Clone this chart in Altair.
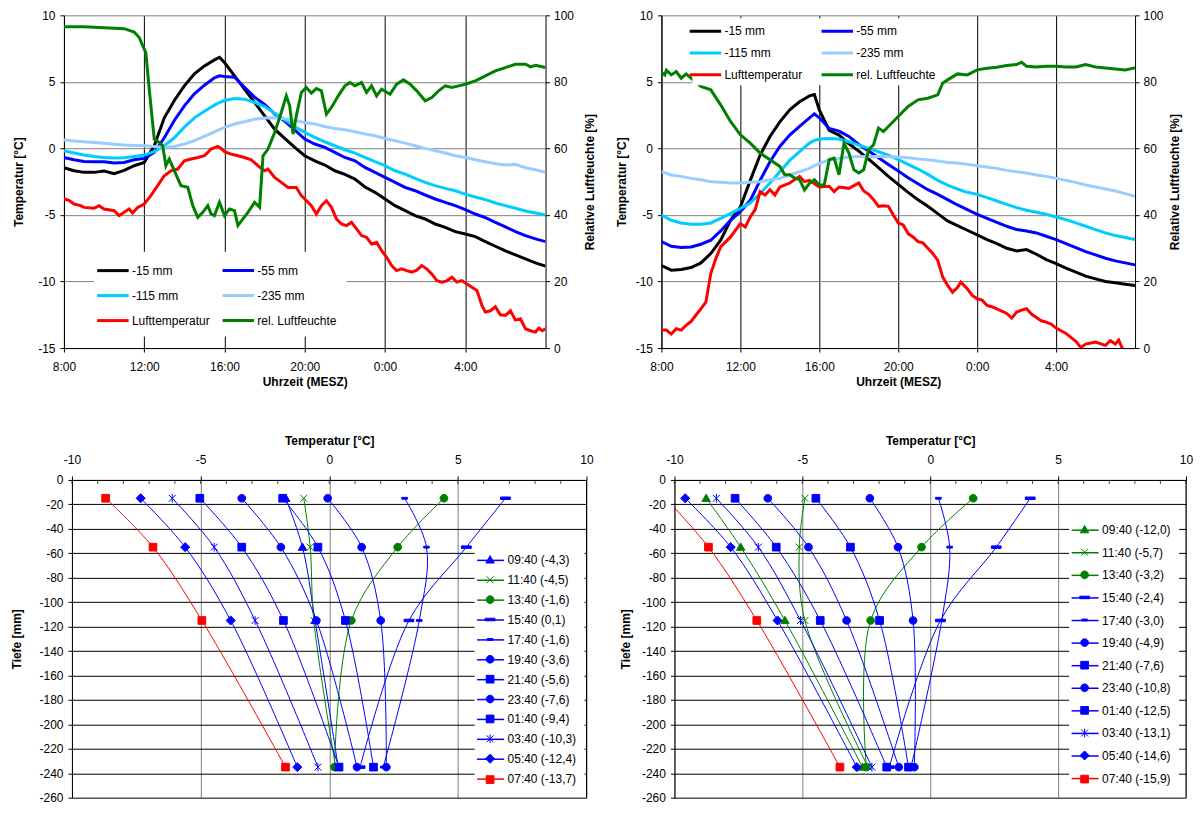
import altair as alt
import pandas as pd

FONT = "Liberation Sans"

# ---------------- time series (hours after 8:00) ----------------
T_GRID = [0, 0.5, 1, 1.5, 2, 2.5, 3, 3.5, 4, 4.5, 5, 5.5, 6, 6.5, 7, 7.5, 7.75,
          8, 8.5, 9, 9.5, 10, 10.5, 11, 11.5, 12, 12.5, 13, 13.5, 14, 14.5, 15, 15.5,
          16, 16.5, 17, 17.5, 18, 18.5, 19, 19.5, 20, 20.5, 21, 21.5, 22, 22.5, 23, 23.5, 24]

TOP_NAMES = ["-15 mm", "-55 mm", "-115 mm", "-235 mm", "Lufttemperatur", "rel. Luftfeuchte"]
TOP_COLORS = ["#000000", "#0000FF", "#00CCFF", "#99CCFF", "#FF0000", "#008000"]
# legend reading order (two columns, filled column by column)
LEGEND_ORDER = [0, 2, 4, 1, 3, 5]

# left top panel
TL_S15 = [-1.45, -1.68, -1.8, -1.8, -1.7, -1.9, -1.65, -1.3, -1.05, 0.2,
          2.3, 3.6, 4.7, 5.6, 6.2, 6.65, 6.85, 6.45, 5.45, 4.45,
          3.45, 2.45, 1.45, 0.75, 0.08, -0.55, -0.93, -1.25, -1.68, -1.95,
          -2.3, -2.9, -3.3, -3.8, -4.3, -4.68, -5.05, -5.3, -5.68, -5.93,
          -6.25, -6.43, -6.63, -7.0, -7.35, -7.7, -8.0, -8.3, -8.6, -8.85]
TL_S55 = [-0.68, -0.85, -0.98, -1.0, -1.0, -1.1, -1.05, -0.85, -0.75, -0.3,
          0.8, 2.1, 3.2, 4.1, 4.75, 5.3, 5.45, 5.4, 5.35, 4.6,
          3.85, 3.3, 2.6, 2.05, 1.4, 0.7, 0.33, 0.08, -0.3, -0.68,
          -0.93, -1.43, -1.8, -2.18, -2.55, -2.93, -3.18, -3.5, -3.8, -4.05,
          -4.3, -4.6, -4.93, -5.2, -5.55, -5.9, -6.25, -6.55, -6.8, -7.0]
TL_S115 = [-0.18, -0.35, -0.5, -0.6, -0.68, -0.72, -0.7, -0.6, -0.5, -0.25,
           0.2, 0.8, 1.6, 2.3, 2.8, 3.25, 3.45, 3.6, 3.75, 3.7,
           3.45, 3.15, 2.65, 2.15, 1.65, 1.2, 0.83, 0.5, 0.2, -0.1,
           -0.35, -0.68, -1.0, -1.3, -1.68, -1.93, -2.25, -2.55, -2.8, -3.0,
           -3.18, -3.43, -3.65, -3.85, -4.1, -4.3, -4.5, -4.7, -4.85, -5.0]
TL_S235 = [0.63, 0.56, 0.5, 0.44, 0.38, 0.31, 0.25, 0.22, 0.2, 0.14,
           0.08, 0.15, 0.33, 0.58, 0.9, 1.25, 1.42, 1.58, 1.83, 2.0,
           2.2, 2.28, 2.3, 2.22, 2.1, 1.95, 1.83, 1.65, 1.5, 1.4,
           1.25, 1.08, 0.95, 0.75, 0.58, 0.4, 0.2, 0.0, -0.18, -0.35,
           -0.55, -0.68, -0.85, -1.0, -1.15, -1.25, -1.2, -1.45, -1.6, -1.8]
TL_AIR = [(0, -3.8), (0.25, -3.9), (0.5, -4.18), (0.83, -4.3), (1, -4.43), (1.5, -4.5),
          (1.75, -4.3), (2, -4.55), (2.5, -4.68), (2.75, -5.05), (3, -4.8), (3.25, -4.55),
          (3.42, -4.85), (3.67, -4.43), (4, -4.18), (4.33, -3.55), (4.67, -2.8), (5, -2.05),
          (5.33, -1.68), (5.67, -1.55), (6, -0.93), (6.33, -0.8), (6.67, -0.68), (7, -0.55),
          (7.17, -0.3), (7.33, -0.05), (7.67, 0.15), (7.83, 0.0), (8, -0.25), (8.33, -0.43),
          (8.67, -0.55), (9, -0.68), (9.33, -0.85), (9.67, -1.3), (10, -1.68), (10.17, -1.55),
          (10.5, -2.18), (10.83, -2.55), (11.17, -2.93), (11.58, -2.93), (11.83, -3.55),
          (12, -3.8), (12.33, -4.3), (12.58, -4.93), (12.83, -4.3), (13.08, -3.93),
          (13.33, -4.43), (13.58, -5.3), (13.83, -5.68), (14.08, -5.8), (14.33, -5.55),
          (14.58, -6.05), (14.83, -6.55), (15.08, -6.68), (15.33, -7.18), (15.58, -7.05),
          (15.83, -7.68), (16.08, -8.18), (16.33, -8.8), (16.58, -9.18), (16.83, -9.05),
          (17.08, -9.18), (17.33, -9.3), (17.58, -9.15), (17.83, -8.8), (18.08, -9.05),
          (18.33, -9.43), (18.58, -9.93), (18.83, -10.05), (19.08, -9.95), (19.33, -9.68),
          (19.58, -10.05), (19.83, -9.93), (20.08, -10.18), (20.33, -10.43), (20.58, -10.68),
          (20.83, -11.8), (21.0, -12.3), (21.25, -12.2), (21.5, -11.9), (21.75, -12.5),
          (22.0, -12.55), (22.25, -12.2), (22.5, -12.9), (22.75, -12.8), (23.0, -13.55),
          (23.25, -13.7), (23.5, -13.8), (23.67, -13.5), (23.83, -13.7), (24, -13.55)]
TL_HUM = [(0, 96.6), (1, 96.6), (2, 96.3), (3, 96.0), (3.5, 95.0), (3.75, 93.3), (4.08, 88.8),
          (4.25, 77.8), (4.5, 62.8), (4.75, 61.8), (4.92, 60.8), (5.08, 54.8), (5.25, 56.8),
          (5.5, 53.3), (5.83, 48.8), (6.17, 48.3), (6.42, 42.8), (6.67, 39.3), (6.92, 40.8),
          (7.17, 42.8), (7.33, 40.3), (7.5, 39.8), (7.75, 43.8), (8.0, 39.8), (8.25, 41.8),
          (8.5, 41.3), (8.67, 36.8), (8.92, 38.8), (9.17, 40.8), (9.5, 43.8), (9.75, 42.3),
          (9.92, 57.8), (10.17, 59.8), (10.5, 64.8), (10.83, 70.8), (11.08, 75.8), (11.25, 72.8),
          (11.42, 64.3), (11.58, 69.8), (11.83, 76.8), (12.08, 78.3), (12.33, 76.6), (12.58, 78.0),
          (12.83, 77.3), (13.08, 70.3), (13.33, 72.3), (13.67, 75.8), (14.0, 78.8), (14.25, 79.8),
          (14.5, 78.8), (14.83, 79.8), (15.08, 76.8), (15.33, 78.8), (15.58, 75.8), (15.83, 77.8),
          (16.25, 76.3), (16.58, 79.3), (16.92, 80.6), (17.25, 79.3), (17.58, 77.3), (18.0, 74.3),
          (18.33, 75.3), (18.67, 77.3), (19.0, 78.8), (19.33, 78.3), (19.67, 78.8), (20.0, 79.3),
          (20.5, 80.3), (20.83, 81.3), (21.0, 81.8), (21.5, 83.3), (22.0, 84.3), (22.5, 85.3),
          (23.0, 85.3), (23.25, 84.5), (23.5, 85.0), (24.0, 84.3)]

# right top panel
TR_S15 = [-8.8, -9.15, -9.1, -8.95, -8.6, -7.9, -6.9, -5.4, -4.4, -2.4,
          -0.5, 0.9, 2.0, 2.9, 3.5, 3.95, 4.05, 2.9, 1.35, 1.0,
          0.35, -0.2, -0.8, -1.45, -2.1, -2.7, -3.3, -3.85, -4.35, -4.9,
          -5.45, -5.8, -6.15, -6.5, -6.85, -7.15, -7.5, -7.7, -7.6, -7.95,
          -8.35, -8.65, -9.0, -9.3, -9.6, -9.8, -10.0, -10.1, -10.2, -10.3]
TR_S55 = [-7.0, -7.35, -7.45, -7.4, -7.2, -6.9, -6.2, -5.4, -4.75, -3.9,
          -2.4, -1.0, 0.15, 1.0, 1.65, 2.3, 2.6, 2.3, 1.5, 1.3,
          0.9, 0.3, -0.2, -0.7, -1.2, -1.7, -2.2, -2.65, -3.1, -3.45,
          -3.85, -4.25, -4.6, -4.95, -5.25, -5.55, -5.85, -6.1, -6.2, -6.35,
          -6.6, -6.85, -7.15, -7.45, -7.75, -8.0, -8.25, -8.45, -8.6, -8.75]
TR_S115 = [-5.0, -5.4, -5.6, -5.7, -5.7, -5.6, -5.25, -4.9, -4.5, -4.1,
           -3.4, -2.6, -1.75, -0.9, -0.25, 0.4, 0.6, 0.7, 0.75, 0.7,
           0.5, 0.25, 0.0, -0.25, -0.5, -0.85, -1.2, -1.55, -1.95, -2.4,
           -2.75, -3.05, -3.3, -3.45, -3.7, -3.95, -4.2, -4.45, -4.65, -4.8,
           -4.95, -5.15, -5.35, -5.6, -5.85, -6.1, -6.35, -6.55, -6.7, -6.85]
TR_S235 = [-1.75, -2.0, -2.1, -2.25, -2.35, -2.5, -2.55, -2.6, -2.6, -2.55,
           -2.5, -2.35, -2.25, -2.0, -1.75, -1.5, -1.3, -1.15, -0.85, -0.75,
           -0.65, -0.6, -0.6, -0.6, -0.62, -0.65, -0.7, -0.8, -0.85, -0.95,
           -1.05, -1.1, -1.2, -1.3, -1.4, -1.5, -1.65, -1.75, -1.85, -2.0,
           -2.1, -2.25, -2.4, -2.55, -2.75, -2.9, -3.05, -3.2, -3.4, -3.6]
TR_AIR = [(0, -13.65), (0.25, -13.65), (0.5, -13.95), (0.75, -13.55), (1.0, -13.65), (1.25, -13.3),
          (1.5, -13.0), (2.0, -12.05), (2.25, -11.55), (2.5, -9.4), (2.75, -8.3), (3.0, -7.4),
          (3.5, -6.65), (4.0, -5.65), (4.25, -5.9), (4.5, -5.15), (4.75, -4.6), (5.0, -3.25),
          (5.25, -3.5), (5.5, -3.1), (5.75, -3.5), (6.0, -2.9), (6.5, -2.6), (7.0, -2.1),
          (7.25, -2.5), (7.5, -2.4), (8.0, -2.9), (8.5, -2.85), (8.75, -3.25), (9.0, -2.9),
          (9.5, -3.0), (10.0, -2.6), (10.25, -3.2), (10.5, -3.45), (10.75, -3.85), (11.0, -4.35),
          (11.25, -4.3), (11.5, -4.35), (11.75, -5.0), (12.0, -5.6), (12.25, -5.75), (12.5, -6.4),
          (12.75, -6.65), (13.0, -7.0), (13.25, -7.1), (13.5, -7.5), (13.75, -7.9), (14.0, -8.4),
          (14.25, -9.65), (14.5, -10.3), (14.75, -10.8), (15.0, -10.45), (15.17, -10.05),
          (15.5, -10.55), (15.75, -11.05), (16.0, -11.3), (16.25, -11.4), (16.5, -11.8),
          (16.75, -11.9), (17.0, -12.05), (17.5, -12.4), (17.75, -12.75), (18.0, -12.3),
          (18.25, -12.15), (18.5, -12.05), (18.75, -12.45), (19.0, -12.7), (19.25, -12.95),
          (19.5, -13.05), (19.75, -13.2), (20.0, -13.5), (20.25, -13.7), (20.5, -13.9),
          (20.75, -14.2), (21.0, -14.5), (21.25, -14.95), (21.5, -14.7), (22.0, -14.55),
          (22.5, -14.8), (22.75, -14.45), (23.0, -14.7), (23.17, -14.4), (23.33, -14.95),
          (23.5, -15.3)]
TR_HUM = [(0, 82.9), (0.17, 82.1), (0.25, 83.5), (0.5, 82.1), (0.75, 83.1), (1.0, 81.1),
          (1.25, 82.4), (1.5, 81.1), (2.0, 78.6), (2.5, 77.6), (3.0, 73.1), (3.5, 68.1),
          (4.0, 64.1), (4.5, 61.6), (5.0, 58.6), (5.5, 56.6), (6.0, 54.6), (6.25, 52.1),
          (6.5, 52.1), (6.75, 51.1), (7.0, 50.6), (7.25, 47.5), (7.5, 49.5), (7.75, 50.6),
          (8.0, 49.0), (8.25, 49.0), (8.5, 56.6), (8.75, 57.1), (9.0, 52.1), (9.25, 61.6),
          (9.5, 58.6), (9.75, 53.6), (10.0, 52.6), (10.25, 53.6), (10.5, 59.6), (10.75, 61.1),
          (11.0, 66.1), (11.25, 65.1), (11.5, 66.6), (12.0, 69.6), (12.5, 72.6), (13.0, 74.6),
          (13.5, 75.1), (14.0, 76.1), (14.25, 79.6), (14.5, 80.6), (15.0, 82.4), (15.5, 82.1),
          (16.0, 83.6), (16.5, 84.1), (17.0, 84.4), (17.5, 84.9), (18.0, 85.2), (18.25, 85.9),
          (18.5, 84.7), (19.0, 84.5), (19.5, 84.7), (20.0, 84.7), (20.5, 84.5), (21.0, 84.5),
          (21.5, 85.2), (22.0, 84.5), (22.5, 84.2), (23.0, 83.9), (23.5, 83.6), (24.0, 84.2)]

# ---------------- depth profiles ----------------
DEPTHS = [-15, -55, -115, -235]
BL_NAMES = ["09:40 (-4,3)", "11:40 (-4,5)", "13:40 (-1,6)", "15:40 (0,1)", "17:40 (-1,6)",
            "19:40 (-3,6)", "21:40 (-5,6)", "23:40 (-7,6)", "01:40 (-9,4)", "03:40 (-10,3)",
            "05:40 (-12,4)", "07:40 (-13,7)"]
BL_COLORS = ["#0000FF", "#008000", "#008000", "#0000FF", "#0000FF", "#0000FF", "#0000FF",
             "#0000FF", "#0000FF", "#0000FF", "#0000FF", "#FF0000"]
BL_PROFILES = [[-1.69, -1.04, -0.55, 0.35], [-0.99, -0.74, -0.6, 0.25], [4.46, 2.66, 0.86, 0.2],
               [6.85, 5.33, 3.1, 1.2], [2.93, 3.78, 3.5, 2.1], [-0.06, 1.26, 2.0, 2.22],
               [-1.81, -0.44, 0.63, 1.72], [-3.4, -1.88, -0.5, 1.08], [-5.03, -3.4, -1.78, 0.38],
               [-6.1, -4.47, -2.88, -0.44], [-7.33, -5.6, -3.83, -1.24], [-8.69, -6.85, -4.95, -1.7]]
BR_NAMES = ["09:40 (-12,0)", "11:40 (-5,7)", "13:40 (-3,2)", "15:40 (-2,4)", "17:40 (-3,0)",
            "19:40 (-4,9)", "21:40 (-7,6)", "23:40 (-10,8)", "01:40 (-12,5)", "03:40 (-13,1)",
            "05:40 (-14,6)", "07:40 (-15,9)"]
BR_COLORS = ["#008000", "#008000", "#008000", "#0000FF", "#0000FF", "#0000FF", "#0000FF",
             "#0000FF", "#0000FF", "#0000FF", "#0000FF", "#FF0000"]
BR_PROFILES = [[-8.76, -7.41, -5.68, -2.65], [-4.9, -5.12, -4.9, -2.43], [1.68, -0.34, -2.33, -2.5],
               [3.91, 2.58, 0.4, -1.6], [0.32, 0.76, 0.45, -0.75], [-2.36, -1.26, -0.67, -0.62],
               [-4.47, -3.12, -1.98, -0.85], [-6.35, -4.76, -3.27, -1.23], [-7.63, -6.02, -4.3, -1.7],
               [-8.36, -6.72, -5.07, -2.28], [-9.58, -7.8, -5.97, -2.87], [-10.35, -8.67, -6.78, -3.53]]
MINOR_TICKS = list(range(-10, 11))
X_RIGHT_EDGE = [10]

# marker shapes (unit = 7 px at size 196)
TRI = "M0,-0.6L0.6,0.45L-0.6,0.45Z"
XM = "M-0.5,-0.5L0.5,0.5M0.5,-0.5L-0.5,0.5"
CIR = "M0.55,0A0.55,0.55 0 1,1 -0.55,0A0.55,0.55 0 1,1 0.55,0Z"
DASHL = "M-0.7,-0.18L0.7,-0.18L0.7,0.18L-0.7,0.18Z"
DASHS = "M-0.4,-0.13L0.4,-0.13L0.4,0.13L-0.4,0.13Z"
SQ = "M-0.55,-0.55L0.55,-0.55L0.55,0.55L-0.55,0.55Z"
AST = "M-0.5,-0.5L0.5,0.5M0.5,-0.5L-0.5,0.5M0,-0.62L0,0.62"
DIA = "M0,-0.65L0.65,0L0,0.65L-0.65,0Z"
SHAPES = [TRI, XM, CIR, DASHL, DASHS, CIR, SQ, CIR, SQ, AST, DIA, SQ]

NUM = "'' + datum.value"
INDEP = dict(color="independent", fill="independent", stroke="independent", shape="independent")


def top_chart(soil, air, hum, w, h, lx, ly, lpad, rowpad, colpad, lext, ltp, rtp):
    rows = []
    for name, vals in zip(TOP_NAMES[:4], soil):
        for t, v in zip(T_GRID, vals):
            rows.append({"t": t, "v": v, "s": name})
    sdf = pd.DataFrame(rows)
    adf = pd.DataFrame([{"t": t, "v": v, "s": TOP_NAMES[4]} for t, v in air])
    hdf = pd.DataFrame([{"t": t, "v": v, "s": TOP_NAMES[5]} for t, v in hum])
    leg = alt.Legend(orient="none", legendX=lx, legendY=ly, columns=2, title=None,
                     fillColor="white", padding=lpad, symbolType="M-2.1,0L2.1,0",
                     symbolSize=225, symbolStrokeWidth=3, labelOffset=10,
                     rowPadding=rowpad, columnPadding=colpad, labelLimit=300,
                     labelFontSize=12, labelFont=FONT, labelColor="black")
    dom = [TOP_NAMES[i] for i in LEGEND_ORDER]
    rng = [TOP_COLORS[i] for i in LEGEND_ORDER]
    color = alt.Color("s:N", scale=alt.Scale(domain=dom, range=rng), legend=leg)
    x = alt.X("t:Q", scale=alt.Scale(domain=[0, 24], nice=False),
              axis=alt.Axis(values=[0, 4, 8, 12, 16, 20],
                            labelExpr="((datum.value + 8) % 24) + ':00'",
                            title="Uhrzeit (MESZ)", grid=True, gridColor="#000000",
                            labelPadding=9, titlePadding=4))
    yt = alt.Y("v:Q", scale=alt.Scale(domain=[-15, 10], nice=False),
               axis=alt.Axis(values=[-15, -10, -5, 0, 5, 10], labelExpr=NUM,
                             title="Temperatur [°C]", grid=True, gridColor="#808080",
                             labelPadding=5, minExtent=lext, maxExtent=lext, titlePadding=ltp))
    yh = alt.Y("v:Q", scale=alt.Scale(domain=[0, 100], nice=False),
               axis=alt.Axis(orient="right", values=[0, 20, 40, 60, 80, 100],
                             title="Relative Luftfeuchte [%]", grid=False, labelPadding=4,
                             minExtent=28, maxExtent=28, titlePadding=rtp,
                             titleAngle=270, titleBaseline="top"))
    layers = []
    for name in TOP_NAMES[:4]:
        layers.append(alt.Chart(sdf).transform_filter(alt.datum.s == name)
                      .mark_line(strokeWidth=3, clip=True)
                      .encode(x=x, y=yt, color=color))
    layers.append(alt.Chart(adf).mark_line(strokeWidth=3, clip=True).encode(x=x, y=yt, color=color))
    temp = alt.layer(*layers)
    hl = alt.Chart(hdf).mark_line(strokeWidth=3, clip=True).encode(x=x, y=yh, color=color)
    return alt.layer(temp, hl).resolve_scale(y="independent").properties(width=w, height=h)


def bottom_chart(names, colors, profiles, shift, w, h, lx, ly, rowpad, ytp):
    rows = []
    for name, vals in zip(names, profiles):
        for k, (d, v) in enumerate(zip(DEPTHS, vals)):
            rows.append({"s": name, "m": name + " ", "d": d, "temp": v, "k": k})
    df = pd.DataFrame(rows)
    names_m = [n + " " for n in names]
    x = alt.X("temp:Q", scale=alt.Scale(domain=[-10, 10], nice=False, range=[shift, w]),
              axis=alt.Axis(orient="top", values=[-10, -5, 0, 5, 10], labelExpr=NUM,
                            title="Temperatur [°C]", grid=True, gridColor="#808080",
                            labelPadding=9, titlePadding=6))
    y = alt.Y("d:Q", scale=alt.Scale(domain=[-260, 0], nice=False),
              axis=alt.Axis(values=list(range(-260, 1, 20)), labelExpr=NUM,
                            title="Tiefe [mm]", grid=True, gridColor="#000000", offset=-shift,
                            labelPadding=5, minExtent=34, maxExtent=34, titlePadding=ytp))
    common = dict(orient="none", legendX=lx, legendY=ly, title=None, padding=8,
                  symbolSize=196, labelOffset=9, rowPadding=rowpad, labelLimit=300,
                  labelFontSize=12, labelFont=FONT)
    leg_a = alt.Legend(fillColor="white", symbolType="M-1.93,0L1.93,0", symbolStrokeWidth=1.5,
                       labelColor="black", zindex=0, **common)
    leg_b = alt.Legend(symbolStrokeWidth=1, labelOpacity=0, zindex=1, **common)
    lines = alt.Chart(df).mark_line(strokeWidth=1, interpolate="catmull-rom", clip=True).encode(
        x=x, y=y, order="k:Q",
        color=alt.Color("s:N", scale=alt.Scale(domain=names, range=colors), legend=leg_a))
    pts = alt.Chart(df).mark_point(filled=True, size=196, opacity=1, strokeWidth=1, clip=True).encode(
        x=x, y=y,
        fill=alt.Fill("m:N", scale=alt.Scale(domain=names_m, range=colors), legend=leg_b),
        stroke=alt.Stroke("m:N", scale=alt.Scale(domain=names_m, range=colors), legend=leg_b),
        shape=alt.Shape("m:N", scale=alt.Scale(domain=names_m, range=SHAPES), legend=leg_b))
    ticks = alt.Chart(pd.DataFrame({"temp": MINOR_TICKS})).mark_tick(
        color="black", size=4, thickness=1).encode(x=x, y=alt.value(2))
    edge = alt.Chart(pd.DataFrame({"temp": X_RIGHT_EDGE})).mark_rule(
        color="black", strokeWidth=1).encode(x=x)
    return alt.layer(lines, pts, ticks, edge).properties(width=w, height=h)


tl = top_chart([TL_S15, TL_S55, TL_S115, TL_S235], TL_AIR, TL_HUM, 482, 333,
               30, 236.5, 10, 10, 5.5, 27, 11, 11)
tr = top_chart([TR_S15, TR_S55, TR_S115, TR_S235], TR_AIR, TR_HUM, 474, 333,
               31, 3, 4, 6.7, 12, 25, 8, 6)
bl = bottom_chart(BL_NAMES, BL_COLORS, BL_PROFILES, 8, 523, 318, 411, 64.5, 5.9, 14)
br = bottom_chart(BR_NAMES, BR_COLORS, BR_PROFILES, 0, 512, 318, 395, 34.3, 8.6, 8)

LEG_INDEP = dict(color="independent", fill="independent", stroke="independent", shape="independent")
chart = alt.vconcat(
    alt.hconcat(tl, tr, spacing=18).resolve_scale(**INDEP).resolve_legend(**LEG_INDEP),
    alt.hconcat(bl, br, spacing=24).resolve_scale(**INDEP).resolve_legend(**LEG_INDEP),
    spacing=46,
).resolve_scale(**INDEP).resolve_legend(**LEG_INDEP).properties(
    padding={"left": 2, "top": 0, "right": 0, "bottom": 0}
).configure(font=FONT).configure_axis(
    labelFont=FONT, labelFontSize=12, labelColor="black", titleFont=FONT,
    titleFontSize=12, titleFontWeight="bold", titleColor="black", domainColor="black",
    tickColor="black", tickSize=4, domainWidth=1, tickWidth=1, gridWidth=1,
    labelFlush=False, labelOverlap=False
).configure_view(stroke="transparent").configure_legend(
    labelFont=FONT, labelFontSize=12, labelColor="black"
)

chart.save("out.html", embed_options={"renderer": "svg", "actions": False})
